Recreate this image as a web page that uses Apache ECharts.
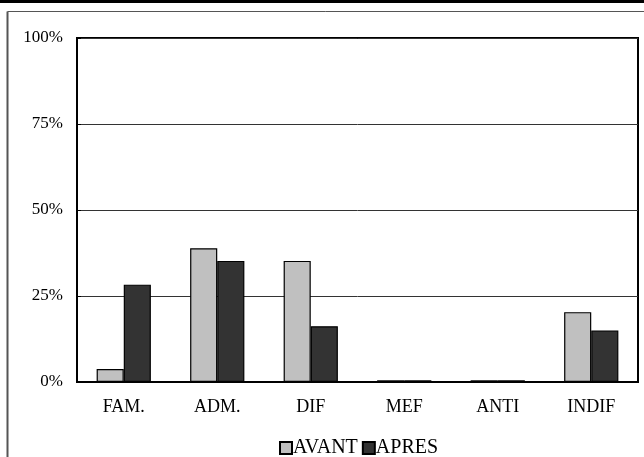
<!DOCTYPE html>
<html><head><meta charset="utf-8">
<script src="https://cdn.jsdelivr.net/npm/echarts@6/dist/echarts.min.js"></script>
<style>html,body{margin:0;padding:0;background:#fff}#c{width:644px;height:457px}</style>
</head><body><div id="c"></div>
<script>
var categories = ['FAM.', 'ADM.', 'DIF', 'MEF', 'ANTI', 'INDIF'];
var avant = [3.8, 38.9, 35.2, 0.5, 0.5, 20.3];
var apres = [28.3, 35.2, 16.2, 0.5, 0.5, 15.0];
var seriesNames = ['AVANT', 'APRES'];
var yTicks = [0, 25, 50, 75, 100];

var font = 'Liberation Serif';
var chart = echarts.init(document.getElementById('c'), null, {renderer: 'canvas'});
chart.setOption({
  animation: false,
  backgroundColor: '#fff',
  graphic: [
    {type: 'rect', shape: {x: 0, y: 0, width: 644, height: 3}, style: {fill: '#000'}, z: 100},
    {type: 'line', shape: {x1: 7.5, y1: 11.5, x2: 644, y2: 11.5}, style: {stroke: '#555', lineWidth: 1}, z: 100},
    {type: 'line', shape: {x1: 7.5, y1: 11.5, x2: 7.5, y2: 457}, style: {stroke: '#555', lineWidth: 2}, z: 100}
  ],
  grid: {left: 77, right: 6, top: 38, bottom: 75, show: true, borderColor: '#000', borderWidth: 2, backgroundColor: 'transparent'},
  legend: {
    top: 433, left: 274, itemWidth: 12, itemHeight: 12, itemGap: 4,
    icon: 'rect',
    textStyle: {fontFamily: font, fontSize: 20, color: '#000', padding: [0, 0, 0, -4]},
    data: seriesNames
  },
  xAxis: {
    type: 'category', data: categories,
    axisLine: {lineStyle: {color: '#000', width: 2}},
    axisTick: {inside: true, length: 4, lineStyle: {color: '#000'}},
    axisLabel: {fontFamily: font, fontSize: 18, color: '#000', margin: 16}
  },
  yAxis: {
    type: 'value', min: 0, max: 100, interval: 25,
    axisLine: {show: true, lineStyle: {color: '#000', width: 2}},
    axisTick: {show: true, inside: true, length: 4, lineStyle: {color: '#000'}},
    splitLine: {lineStyle: {color: '#333', width: 1}},
    axisLabel: {fontFamily: font, fontSize: 17, color: '#000', margin: 14,
      formatter: function (v) { return yTicks.indexOf(v) >= 0 ? v + '%' : ''; }}
  },
  series: [
    {name: seriesNames[0], type: 'bar', data: avant, barGap: '0%', barCategoryGap: '42%',
     itemStyle: {color: '#c0c0c0', borderColor: '#000', borderWidth: 1.2}},
    {name: seriesNames[1], type: 'bar', data: apres,
     itemStyle: {color: '#333333', borderColor: '#000', borderWidth: 1.2}}
  ]
});
</script></body></html>
